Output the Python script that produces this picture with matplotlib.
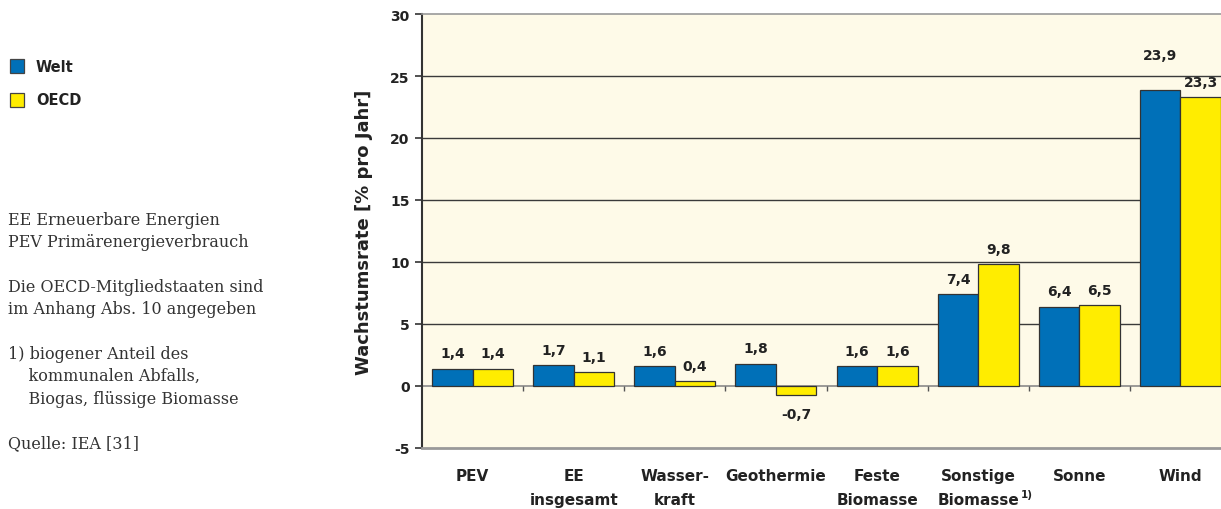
import numpy as np
import matplotlib
matplotlib.use("Agg")
import matplotlib.pyplot as plt
import matplotlib.transforms as mtransforms

# data
categories = ["PEV", "EE\ninsgesamt", "Wasser-\nkraft", "Geothermie", "Feste\nBiomasse",
              "Sonstige\nBiomasse", "Sonne", "Wind"]
welt = [1.4, 1.7, 1.6, 1.8, 1.6, 7.4, 6.4, 23.9]
oecd = [1.4, 1.1, 0.4, -0.7, 1.6, 9.8, 6.5, 23.3]
welt_labels = ["1,4", "1,7", "1,6", "1,8", "1,6", "7,4", "6,4", "23,9"]
oecd_labels = ["1,4", "1,1", "0,4", "-0,7", "1,6", "9,8", "6,5", "23,3"]
yticks = [-5, 0, 5, 10, 15, 20, 25, 30]

notes = ("EE Erneuerbare Energien\n"
         "PEV Primärenergieverbrauch\n"
         "\n"
         "Die OECD-Mitgliedstaaten sind\n"
         "im Anhang Abs. 10 angegeben\n"
         "\n"
         "1) biogener Anteil des\n"
         "    kommunalen Abfalls,\n"
         "    Biogas, flüssige Biomasse\n"
         "\n"
         "Quelle: IEA [31]")

BLUE = "#0070b8"
YELLOW = "#ffed00"
BG = "#fefae8"
EDGE = "#333333"
TXT = "#222222"
plt.rcParams["font.family"] = ["DejaVu Sans"]

W, H = 1221, 510
fig = plt.figure(figsize=(W / 100, H / 100), dpi=100)
ax = fig.add_axes([422 / W, 61 / H, 809 / W, 434 / H])
ax.set_facecolor(BG)

x = np.arange(len(categories))
bw = 0.40
ax.set_xlim(-0.5, len(categories) - 0.5)
ax.set_ylim(-5, 30)

# grid lines behind the bars
for v in yticks:
    if v in (-5, 0, 30):
        continue
    ax.axhline(v, color="#3a3a3a", lw=1.0, zorder=1)
ax.axhline(0, color="#8a8a8a", lw=1.2, zorder=1)
ax.vlines(x[:-1] + 0.5, -0.4, 0, color="#555555", lw=1.0, zorder=1)

ax.bar(x - bw / 2, welt, bw, color=BLUE, edgecolor=EDGE, lw=0.9, zorder=2)
ax.bar(x + bw / 2, oecd, bw, color=YELLOW, edgecolor=EDGE, lw=0.9, zorder=2)

# value labels
for i in range(len(categories)):
    off = 20 if welt[i] > 20 else 6
    ax.annotate(welt_labels[i], (x[i] - bw / 2, welt[i]), xytext=(0, off),
                textcoords="offset points", ha="center", va="bottom",
                fontsize=10, fontweight="bold", color=TXT)
    if oecd[i] >= 0:
        ax.annotate(oecd_labels[i], (x[i] + bw / 2, oecd[i]), xytext=(0, 6),
                    textcoords="offset points", ha="center", va="bottom",
                    fontsize=10, fontweight="bold", color=TXT)
    else:
        ax.annotate(oecd_labels[i], (x[i] + bw / 2, oecd[i]), xytext=(0, -9),
                    textcoords="offset points", ha="center", va="top",
                    fontsize=10, fontweight="bold", color=TXT)

# spines
ax.spines["top"].set_color("#999999")
ax.spines["top"].set_linewidth(1.2)
ax.spines["bottom"].set_color("#999999")
ax.spines["bottom"].set_linewidth(2.0)
ax.spines["right"].set_visible(False)
ax.spines["left"].set_color("#333333")
ax.spines["left"].set_linewidth(1.5)

ax.set_yticks(yticks)
ax.set_yticklabels([str(v) for v in yticks], fontsize=10, fontweight="bold", color=TXT)
ax.tick_params(axis="y", length=5, width=1.2, color="#333333", pad=4)
ax.set_xticks([])

ax.set_ylabel("Wachstumsrate [% pro Jahr]", fontsize=13, fontweight="bold",
              color=TXT, labelpad=12)

# category labels
trans = mtransforms.blended_transform_factory(ax.transData, ax.transAxes)
for i, c in enumerate(categories):
    ax.text(x[i], -0.047, c, transform=trans, ha="center", va="top",
            fontsize=11, fontweight="bold", color=TXT, linespacing=1.7)
ax.text(x[5] + 0.42, -0.094, "1)", transform=trans, ha="left", va="top",
        fontsize=7.5, fontweight="bold", color=TXT)

# legend
fig.patches.append(plt.Rectangle((10 / W, 1 - 74 / H), 14 / W, 14 / H,
                                 transform=fig.transFigure, facecolor=BLUE,
                                 edgecolor="#444444", lw=0.9))
fig.patches.append(plt.Rectangle((10 / W, 1 - 108 / H), 14 / W, 14 / H,
                                 transform=fig.transFigure, facecolor=YELLOW,
                                 edgecolor="#444444", lw=0.9))
fig.text(36 / W, 1 - 67 / H, "Welt", fontsize=10.5, fontweight="bold",
         va="center", color=TXT)
fig.text(36 / W, 1 - 101 / H, "OECD", fontsize=10.5, fontweight="bold",
         va="center", color=TXT)

fig.text(8 / W, 1 - 212 / H, notes, fontsize=11.5, family="DejaVu Serif",
         va="top", ha="left", color="#333333", linespacing=1.41)

fig.savefig("out.png", dpi=100)
